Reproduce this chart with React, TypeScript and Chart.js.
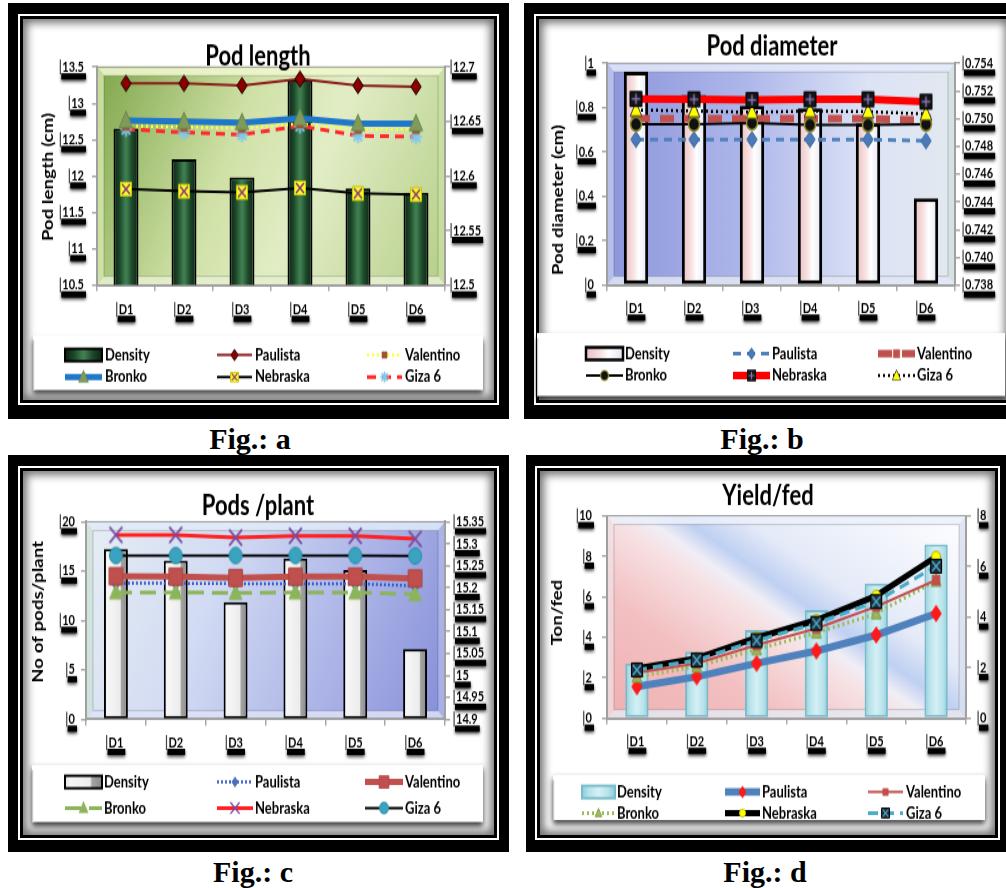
import React, { useEffect, useRef } from 'react';
import { Chart, registerables } from 'chart.js';

Chart.register(...registerables);

const STRETCH = 1.25;
const FONT = 'Lato, "Open Sans", "DejaVu Sans", sans-serif';

// ---------------- data ----------------
const categories = ['D1', 'D2', 'D3', 'D4', 'D5', 'D6'];
const seriesNames = ['Density', 'Paulista', 'Valentino', 'Bronko', 'Nebraska', 'Giza 6'];

// Fig. a — Pod length
const podLengthDensity = [12.65, 12.23, 11.98, 13.32, 11.83, 11.77];
const podLengthPaulista = [12.685, 12.685, 12.683, 12.689, 12.683, 12.682];
const podLengthValentino = [12.646, 12.645, 12.644, 12.648, 12.643, 12.643];
const podLengthBronko = [12.651, 12.65, 12.649, 12.653, 12.648, 12.648];
const podLengthNebraska = [12.588, 12.586, 12.585, 12.589, 12.584, 12.583];
const podLengthGiza6 = [12.643, 12.64, 12.638, 12.646, 12.637, 12.636];
const podLengthLeftAxis = [10.5, 13.5, 0.5];
const podLengthRightAxis = [12.5, 12.7, 0.05];

// Fig. b — Pod diameter
const podDiameterDensity = [0.962, 0.857, 0.808, 0.797, 0.729, 0.391];
const podDiameterPaulista = [0.7485, 0.7485, 0.7485, 0.7485, 0.7485, 0.7484];
const podDiameterValentino = [0.75, 0.75, 0.75, 0.75, 0.75, 0.7499];
const podDiameterBronko = [0.7496, 0.7496, 0.7497, 0.74955, 0.74955, 0.7496];
const podDiameterNebraska = [0.75143, 0.7514, 0.75135, 0.7514, 0.7514, 0.75123];
const podDiameterGiza6 = [0.75063, 0.75056, 0.75046, 0.75056, 0.75051, 0.75034];
const podDiameterLeftAxis = [0, 1, 0.2];
const podDiameterRightAxis = [0.738, 0.754, 0.002];

// Fig. c — Pods / plant
const podsPlantDensity = [17.23, 16.05, 11.84, 16.29, 15.11, 7.12];
const podsPlantPaulista = [15.21, 15.21, 15.209, 15.209, 15.209, 15.204];
const podsPlantValentino = [15.226, 15.225, 15.222, 15.225, 15.225, 15.221];
const podsPlantBronko = [15.189, 15.189, 15.188, 15.189, 15.189, 15.185];
const podsPlantNebraska = [15.32, 15.32, 15.314, 15.318, 15.318, 15.311];
const podsPlantGiza6 = [15.273, 15.273, 15.273, 15.273, 15.273, 15.272];
const podsPlantLeftAxis = [0, 20, 5];
const podsPlantRightAxis = [14.9, 15.35, 0.05];

// Fig. d — Yield / fed
const yieldDensity = [2.71, 3.29, 4.36, 5.35, 6.66, 8.59];
const yieldPaulista = [1.25, 1.64, 2.17, 2.66, 3.29, 4.14];
const yieldValentino = [1.8, 2.17, 2.89, 3.55, 4.41, 5.46];
const yieldBronko = [1.64, 2.04, 2.72, 3.38, 4.14, 5.43];
const yieldNebraska = [1.97, 2.37, 3.18, 3.88, 4.84, 6.38];
const yieldGiza6 = [1.91, 2.3, 3.07, 3.75, 4.61, 6.01];
const yieldLeftAxis = [0, 10, 2];
const yieldRightAxis = [0, 8, 2];

const figureCaptions = ['Fig.: a', 'Fig.: b', 'Fig.: c', 'Fig.: d'];

// ---------------- types & helpers ----------------
type Stops = [number, string][];
interface MarkerSpec { shape: string; size: number; fill?: string; stroke?: string; lw?: number; mark?: string }
interface LineSpec { data: number[]; color: string; width: number; dash?: number[]; marker: MarkerSpec; order: number }
interface Area { left: number; top: number; right: number; bottom: number; width: number; height: number }
interface PanelCfg {
  key: string; title: string; yTitle: string; caption: string; capX: number; capTop: number;
  box: { x: number; y: number; w: number; h: number };
  inset: { l: number; t: number; r: number; b: number };
  cw: number; ch: number;
  area: { l: number; t: number; r: number; b: number };
  y1W: number; padY: number; padY1: number; padX: number;
  left: number[]; right: number[]; rightDigits: number;
  titlePos: [number, number]; yTitlePos: [number, number];
  legendBox: [number, number, number, number]; legendRows: [number, number];
  legendCols: [number, number, number][];
  bar: { data: number[]; stops: Stops; border: string; borderWidth: number; percent: number };
  lines: LineSpec[];
  bg: (ctx: CanvasRenderingContext2D, a: Area) => void;
}

function makeMarker(m: MarkerSpec): HTMLCanvasElement {
  const s = Math.ceil(m.size + 5);
  const c = document.createElement('canvas');
  c.width = s; c.height = s;
  const g = c.getContext('2d')!;
  const cx = s / 2, cy = s / 2, r = m.size / 2;
  g.lineWidth = m.lw ?? 1;
  g.strokeStyle = m.stroke ?? m.fill ?? '#000';
  if (m.fill) g.fillStyle = m.fill;
  const finish = () => { g.closePath(); if (m.fill) g.fill(); g.stroke(); };
  g.beginPath();
  switch (m.shape) {
    case 'diamond':
      g.moveTo(cx, cy - r); g.lineTo(cx + r * 0.8, cy); g.lineTo(cx, cy + r); g.lineTo(cx - r * 0.8, cy); finish();
      break;
    case 'square': case 'squareX': case 'squarePlus': {
      const h = r * 0.85;
      g.rect(cx - h, cy - h, 2 * h, 2 * h); if (m.fill) g.fill(); g.stroke();
      if (m.shape !== 'square') {
        g.beginPath(); g.strokeStyle = m.mark ?? '#fff'; g.lineWidth = 1.5;
        const k = h * 0.72;
        if (m.shape === 'squareX') {
          g.moveTo(cx - k, cy - k); g.lineTo(cx + k, cy + k); g.moveTo(cx + k, cy - k); g.lineTo(cx - k, cy + k);
        } else {
          g.moveTo(cx - k, cy); g.lineTo(cx + k, cy); g.moveTo(cx, cy - k); g.lineTo(cx, cy + k);
        }
        g.stroke();
      }
      break;
    }
    case 'triangle':
      g.moveTo(cx, cy - r); g.lineTo(cx + r * 0.9, cy + r * 0.75); g.lineTo(cx - r * 0.9, cy + r * 0.75); finish();
      break;
    case 'circle':
      g.arc(cx, cy, r, 0, Math.PI * 2); finish();
      break;
    case 'star':
      for (let k = 0; k < 4; k++) {
        const ang = (k * Math.PI) / 4;
        g.moveTo(cx + Math.cos(ang) * r, cy + Math.sin(ang) * r);
        g.lineTo(cx - Math.cos(ang) * r, cy - Math.sin(ang) * r);
      }
      g.stroke();
      break;
    case 'x': {
      const k = r * 0.8;
      g.moveTo(cx - k, cy - k); g.lineTo(cx + k, cy + k); g.moveTo(cx + k, cy - k); g.lineTo(cx - k, cy + k);
      g.stroke();
      break;
    }
  }
  return c;
}

function fmt(v: number, digits: number) {
  return digits > 0 ? Number(v).toFixed(digits) : String(parseFloat(Number(v).toFixed(3)));
}

function barFill(stops: Stops, bp: number) {
  return (c: any) => {
    const chart = c.chart;
    const area = chart.chartArea;
    if (!area || c.type !== 'data' || c.dataIndex === undefined || !chart.scales.x) return stops[Math.floor(stops.length / 2)][1];
    const x = chart.scales.x.getPixelForValue(c.dataIndex);
    const w = (area.width / categories.length) * bp;
    const g = chart.ctx.createLinearGradient(x - w / 2, 0, x + w / 2, 0);
    stops.forEach(([o, col]) => g.addColorStop(o, col));
    return g;
  };
}

function poly(ctx: CanvasRenderingContext2D, pts: number[][], col: string) {
  ctx.beginPath();
  ctx.moveTo(pts[0][0], pts[0][1]);
  for (let i = 1; i < pts.length; i++) ctx.lineTo(pts[i][0], pts[i][1]);
  ctx.closePath();
  ctx.fillStyle = col;
  ctx.fill();
}

function bevel(ctx: CanvasRenderingContext2D, a: Area, i: number, top: string, left: string, right: string, bottom: string) {
  const l = a.left, t = a.top, r = a.right, b = a.bottom;
  poly(ctx, [[l, t], [r, t], [r - i, t + i], [l + i, t + i]], top);
  poly(ctx, [[l, t], [l + i, t + i], [l + i, b - i], [l, b]], left);
  poly(ctx, [[r, t], [r, b], [r - i, b - i], [r - i, t + i]], right);
  poly(ctx, [[l, b], [l + i, b - i], [r - i, b - i], [r, b]], bottom);
  ctx.strokeStyle = 'rgba(0,0,0,0.18)';
  ctx.lineWidth = 1;
  ctx.strokeRect(l + i, t + i, r - l - 2 * i, b - t - 2 * i);
  ctx.strokeStyle = 'rgba(90,90,90,0.6)';
  ctx.strokeRect(l, t, r - l, b - t);
}

function linGrad(ctx: CanvasRenderingContext2D, x0: number, y0: number, x1: number, y1: number, stops: Stops) {
  const g = ctx.createLinearGradient(x0, y0, x1, y1);
  stops.forEach(([o, c]) => g.addColorStop(o, c));
  return g;
}

const bgA = (ctx: CanvasRenderingContext2D, a: Area) => {
  ctx.fillStyle = linGrad(ctx, a.left, a.top, a.right, a.bottom, [[0, '#7fa64b'], [0.38, '#cfe1a6'], [0.6, '#e2edc6'], [1, '#b5cf88']]);
  ctx.fillRect(a.left, a.top, a.width, a.height);
  bevel(ctx, a, 7, 'rgba(238,246,205,0.9)', 'rgba(215,232,175,0.8)', 'rgba(200,224,160,0.8)', 'rgba(228,238,205,0.9)');
};
const bgB = (ctx: CanvasRenderingContext2D, a: Area) => {
  ctx.fillStyle = linGrad(ctx, a.left, a.top, a.right, a.top, [[0, '#8d96db'], [0.4, '#aeb7ea'], [0.75, '#dce3f6'], [1, '#e3e9ef']]);
  ctx.fillRect(a.left, a.top, a.width, a.height);
  bevel(ctx, a, 7, 'rgba(228,234,250,0.85)', 'rgba(200,208,240,0.7)', 'rgba(210,222,225,0.8)', 'rgba(225,230,245,0.85)');
};
const bgC = (ctx: CanvasRenderingContext2D, a: Area) => {
  ctx.fillStyle = linGrad(ctx, a.left, a.top, a.right, a.bottom, [[0, '#e6eef4'], [0.35, '#d2dbf3'], [0.7, '#abb3e7'], [1, '#868fd8']]);
  ctx.fillRect(a.left, a.top, a.width, a.height);
  bevel(ctx, a, 7, 'rgba(225,235,248,0.85)', 'rgba(205,225,215,0.8)', 'rgba(175,185,235,0.8)', 'rgba(220,226,248,0.85)');
};
const bgD = (ctx: CanvasRenderingContext2D, a: Area) => {
  const nx = 0.4886, ny = -0.8725;
  const cx = (a.left + a.right) / 2, cy = (a.top + a.bottom) / 2;
  const p = nx * (a.width / 2) - ny * (a.height / 2);
  ctx.fillStyle = linGrad(ctx, cx - nx * p, cy - ny * p, cx + nx * p, cy + ny * p, [
    [0, '#f0b0b2'], [0.27, '#f3c0c2'], [0.44, '#f7e0e2'], [0.5, '#f0eef6'], [0.557, '#bfd0f2'], [0.65, '#e4eaf8'], [1, '#ffffff'],
  ]);
  ctx.fillRect(a.left, a.top, a.width, a.height);
  bevel(ctx, a, 7, 'rgba(235,240,250,0.85)', 'rgba(240,225,230,0.7)', 'rgba(215,222,240,0.8)', 'rgba(230,232,240,0.85)');
};

// ---------------- panel configuration ----------------
const panels: PanelCfg[] = [
  {
    key: 'a', title: 'Pod length', yTitle: 'Pod length (cm)', caption: figureCaptions[0], capX: 250, capTop: 424,
    box: { x: 8, y: 3, w: 501, h: 416 }, inset: { l: 10, t: 11, r: 10, b: 14 },
    cw: 501, ch: 332, area: { l: 89, t: 51.2, r: 437, b: 225.6 },
    y1W: 45, padY: 8, padY1: 3, padX: 8,
    left: podLengthLeftAxis, right: podLengthRightAxis, rightDigits: 0,
    titlePos: [250, 43.2], yTitlePos: [40, 139.2],
    legendBox: [25, 265.6, 475, 309.6], legendRows: [281.6, 299.2],
    legendCols: [[57, 94, 97], [209, 244, 247], [359, 394, 397]],
    bar: {
      data: podLengthDensity, border: '#000', borderWidth: 2, percent: 0.43,
      stops: [[0, '#0b2213'], [0.25, '#1d4829'], [0.47, '#3f7d50'], [0.53, '#3f7d50'], [0.75, '#1d4829'], [1, '#0b2213']],
    },
    lines: [
      { data: podLengthPaulista, color: '#8b1c1c', width: 2, marker: { shape: 'diamond', size: 13, fill: '#8a0000', stroke: '#1a0000' }, order: 5 },
      { data: podLengthValentino, color: '#ffff33', width: 2.5, dash: [2, 3], marker: { shape: 'square', size: 8, fill: '#a0522d' }, order: 3 },
      { data: podLengthBronko, color: '#1f77c9', width: 5, marker: { shape: 'triangle', size: 15, fill: '#7f9a5a', stroke: '#6b8a4a' }, order: 2 },
      { data: podLengthNebraska, color: '#000000', width: 2, marker: { shape: 'squareX', size: 13, fill: '#f5f53a', stroke: '#c8c800', mark: '#8a3a6a' }, order: 1 },
      { data: podLengthGiza6, color: '#ff2a2a', width: 3, dash: [9, 6], marker: { shape: 'star', size: 12, stroke: '#7ec8ee', lw: 2 }, order: 4 },
    ],
    bg: bgA,
  },
  {
    key: 'b', title: 'Pod diameter', yTitle: 'Pod diameter (cm)', caption: figureCaptions[1], capX: 762, capTop: 424,
    box: { x: 524, y: 3, w: 500, h: 416 }, inset: { l: 10, t: 11, r: 10, b: 14 },
    cw: 482, ch: 332, area: { l: 83, t: 48.2, r: 431, b: 225.6 },
    y1W: 45, padY: 8, padY1: 5, padX: 7,
    left: podDiameterLeftAxis, right: podDiameterRightAxis, rightDigits: 3,
    titlePos: [248, 35.2], yTitlePos: [34, 157.6],
    legendBox: [13, 264, 481, 314.4], legendRows: [280.5, 298],
    legendCols: [[62, 99, 101], [209, 246, 248], [354, 391, 393]],
    bar: {
      data: podDiameterDensity, border: '#000', borderWidth: 3, percent: 0.42,
      stops: [[0, '#e9c0c4'], [0.4, '#f8e2e2'], [0.6, '#ffffff'], [1, '#e2e6f2']],
    },
    lines: [
      { data: podDiameterPaulista, color: '#4f81bd', width: 3, dash: [8, 6], marker: { shape: 'diamond', size: 13, fill: '#4a7ab8', stroke: '#3a6aa0' }, order: 5 },
      { data: podDiameterValentino, color: '#c0504d', width: 6, dash: [14, 10], marker: { shape: 'square', size: 10, fill: '#c0504d' }, order: 4 },
      { data: podDiameterBronko, color: '#000000', width: 2, marker: { shape: 'circle', size: 11, fill: '#111111', stroke: '#8e8e30', lw: 1.5 }, order: 3 },
      { data: podDiameterNebraska, color: '#ff0000', width: 6, marker: { shape: 'squarePlus', size: 14, fill: '#151515', stroke: '#000', mark: '#8878c0' }, order: 1 },
      { data: podDiameterGiza6, color: '#000000', width: 2.5, dash: [2, 3], marker: { shape: 'triangle', size: 13, fill: '#ffff00', stroke: '#333' }, order: 2 },
    ],
    bg: bgB,
  },
  {
    key: 'c', title: 'Pods /plant', yTitle: 'No of pods/plant', caption: figureCaptions[2], capX: 253, capTop: 857,
    box: { x: 8, y: 455, w: 501, h: 397 }, inset: { l: 10, t: 11, r: 10, b: 12 },
    cw: 501, ch: 316, area: { l: 78, t: 53.4, r: 437, b: 211.4 },
    y1W: 45, padY: 6, padY1: 6, padX: 7,
    left: podsPlantLeftAxis, right: podsPlantRightAxis, rightDigits: 0,
    titlePos: [250, 41.4], yTitlePos: [29.7, 125.4],
    legendBox: [24, 248, 475, 293.6], legendRows: [261.6, 282.4],
    legendCols: [[57, 94, 96], [209, 245, 247], [357, 395, 397]],
    bar: {
      data: podsPlantDensity, border: '#000', borderWidth: 2, percent: 0.4,
      stops: [[0, '#e4e4e4'], [0.15, '#f7f7f7'], [0.68, '#ececec'], [0.73, '#a4a4a4'], [1, '#8a8a8a']],
    },
    lines: [
      { data: podsPlantPaulista, color: '#3a5fcd', width: 2.5, dash: [2, 2], marker: { shape: 'diamond', size: 11, fill: '#4a70b8' }, order: 5 },
      { data: podsPlantValentino, color: '#c0504d', width: 5, marker: { shape: 'square', size: 16, fill: '#c0504d', stroke: '#a84440' }, order: 1 },
      { data: podsPlantBronko, color: '#8cb45a', width: 3, dash: [16, 8], marker: { shape: 'triangle', size: 14, fill: '#8cb45a' }, order: 4 },
      { data: podsPlantNebraska, color: '#ff2020', width: 3, marker: { shape: 'x', size: 16, stroke: '#7a4aa0', lw: 2 }, order: 2 },
      { data: podsPlantGiza6, color: '#000000', width: 2, marker: { shape: 'circle', size: 13, fill: '#3aa3bf', stroke: '#2a8aa8' }, order: 3 },
    ],
    bg: bgC,
  },
  {
    key: 'd', title: 'Yield/fed', yTitle: 'Ton/fed', caption: figureCaptions[3], capX: 765, capTop: 857,
    box: { x: 526, y: 455, w: 484, h: 397 }, inset: { l: 9, t: 11, r: 10, b: 12 },
    cw: 480, ch: 316, area: { l: 81, t: 48.6, r: 440, b: 210.6 },
    y1W: 30, padY: 10, padY1: 9, padX: 7,
    left: yieldLeftAxis, right: yieldRightAxis, rightDigits: 0,
    titlePos: [242, 33.3], yTitlePos: [30.7, 126],
    legendBox: [27, 256, 459, 292], legendRows: [269.6, 286.4],
    legendCols: [[56, 89, 91], [199, 234, 236], [342, 377, 380]],
    bar: {
      data: yieldDensity, border: '#78bccb', borderWidth: 2, percent: 0.39,
      stops: [[0, '#8ccbd8'], [0.2, '#b6e2ea'], [0.5, '#d4f0f5'], [0.8, '#b6e2ea'], [1, '#8ccbd8']],
    },
    lines: [
      { data: yieldPaulista, color: '#4f81bd', width: 6, marker: { shape: 'diamond', size: 13, fill: '#ff1a1a' }, order: 5 },
      { data: yieldValentino, color: '#c0504d', width: 2, marker: { shape: 'square', size: 9, fill: '#c0504d' }, order: 3 },
      { data: yieldBronko, color: '#9bbb59', width: 3, dash: [2, 3], marker: { shape: 'triangle', size: 11, fill: '#9bbb59', stroke: '#7a9a40' }, order: 4 },
      { data: yieldNebraska, color: '#000000', width: 5, marker: { shape: 'circle', size: 9, fill: '#ffff00', stroke: '#b0a000' }, order: 2 },
      { data: yieldGiza6, color: '#4bacc6', width: 3, dash: [10, 6], marker: { shape: 'squareX', size: 13, fill: '#1f2f3f', stroke: '#000', mark: '#4bacc6' }, order: 1 },
    ],
    bg: bgD,
  },
];

// ---------------- chart building ----------------
function drawTickBars(chart: any) {
  const ctx: CanvasRenderingContext2D = chart.ctx;
  ctx.font = `bold 11px ${FONT}`;
  ['y', 'y1', 'x'].forEach((id) => {
    const s: any = chart.scales[id];
    if (!s) return;
    const tl = s.options.grid.tickLength;
    const pad = s.options.ticks.padding;
    s.ticks.forEach((t: any, i: number) => {
      const label = String(t.label ?? '');
      const w = ctx.measureText(label).width;
      let x0: number, yc: number;
      if (id === 'x') { x0 = s.getPixelForTick(i) - w / 2; yc = s.top + tl + pad + 6.6; }
      else if (id === 'y') { yc = s.getPixelForTick(i); x0 = s.right - tl - pad - w; }
      else { yc = s.getPixelForTick(i); x0 = s.left + tl + pad; }
      ctx.save();
      ctx.shadowColor = 'rgba(0,0,0,0.75)'; ctx.shadowBlur = 3; ctx.shadowOffsetY = 1.5;
      ctx.fillStyle = '#000';
      ctx.fillRect(x0 - 1, yc + 5, w + 3, 5);
      ctx.restore();
      ctx.fillStyle = '#444';
      ctx.fillRect(x0 - 2.5, yc - 6, 1.2, 12);
    });
  });
}

function drawLegend(ctx: CanvasRenderingContext2D, cfg: PanelCfg, markers: HTMLCanvasElement[]) {
  const [bx0, by0, bx1, by1] = cfg.legendBox;
  ctx.save();
  ctx.shadowColor = 'rgba(0,0,0,0.8)'; ctx.shadowBlur = 5; ctx.shadowOffsetY = 3;
  ctx.fillStyle = '#ffffff';
  ctx.fillRect(bx0, by0, bx1 - bx0, by1 - by0);
  ctx.restore();
  ctx.fillStyle = '#c8c8c8';
  ctx.fillRect(bx0, by0 + 4, 1.2, by1 - by0 - 4);
  ctx.save();
  ctx.font = `bold 13px ${FONT}`;
  ctx.textBaseline = 'middle';
  ctx.textAlign = 'left';
  seriesNames.forEach((name, i) => {
    const y = cfg.legendRows[Math.floor(i / 3)];
    const [m0, m1, tx] = cfg.legendCols[i % 3];
    if (i === 0) {
      ctx.fillStyle = linGrad(ctx, m0, 0, m1, 0, cfg.bar.stops);
      ctx.fillRect(m0, y - 5, m1 - m0, 10);
      ctx.strokeStyle = cfg.bar.border;
      ctx.lineWidth = Math.min(cfg.bar.borderWidth, 2.5);
      ctx.strokeRect(m0, y - 5, m1 - m0, 10);
    } else {
      const l = cfg.lines[i - 1];
      ctx.strokeStyle = l.color;
      ctx.lineWidth = l.width;
      ctx.setLineDash(l.dash ?? []);
      ctx.beginPath(); ctx.moveTo(m0, y); ctx.lineTo(m1, y); ctx.stroke();
      ctx.setLineDash([]);
      const mk = markers[i - 1];
      const k = 0.72;
      const w = mk.width * k, h = mk.height * k;
      ctx.drawImage(mk, (m0 + m1) / 2 - w / 2, y - h / 2, w, h);
    }
    ctx.fillStyle = '#000';
    ctx.fillText(name, tx, y);
  });
  ctx.restore();
}

function createChart(canvas: HTMLCanvasElement, cfg: PanelCfg) {
  const markers = cfg.lines.map((l) => makeMarker(l.marker));
  const yW = 40, xH = 40;
  const bp = cfg.bar.percent;
  const tickFont = { family: FONT, size: 11, weight: 'bold' as const };
  const grid = { drawOnChartArea: false, drawTicks: true, tickLength: 5, color: '#a8a8a8', lineWidth: 1.5 };
  const border = { display: true, color: '#a0a0a0', width: 2 };

  const datasets: any[] = [
    {
      type: 'bar', label: seriesNames[0], data: cfg.bar.data, yAxisID: 'y',
      backgroundColor: barFill(cfg.bar.stops, bp), borderColor: cfg.bar.border, borderWidth: cfg.bar.borderWidth,
      borderSkipped: false, barPercentage: bp, categoryPercentage: 1, order: 100,
    },
    ...cfg.lines.map((l, i) => ({
      type: 'line', label: seriesNames[i + 1], data: l.data, yAxisID: 'y1',
      borderColor: l.color, backgroundColor: l.color, borderWidth: l.width, borderDash: l.dash ?? [],
      pointStyle: markers[i], pointRadius: l.marker.size / 2, pointHoverRadius: l.marker.size / 2,
      tension: 0, fill: false, order: l.order, clip: false,
    })),
  ];

  const deco = {
    id: 'deco',
    beforeDraw(chart: any) {
      const ctx: CanvasRenderingContext2D = chart.ctx;
      ctx.save(); cfg.bg(ctx, chart.chartArea); ctx.restore();
      ctx.save(); drawTickBars(chart); ctx.restore();
    },
    afterDraw(chart: any) {
      const ctx: CanvasRenderingContext2D = chart.ctx;
      ctx.save();
      ctx.fillStyle = '#000'; ctx.textAlign = 'center'; ctx.textBaseline = 'middle';
      ctx.font = `bold 22px ${FONT}`;
      ctx.fillText(cfg.title, cfg.titlePos[0], cfg.titlePos[1]);
      ctx.translate(cfg.yTitlePos[0], cfg.yTitlePos[1]);
      ctx.rotate(-Math.PI / 2);
      ctx.font = `bold 15px ${FONT}`;
      ctx.fillText(cfg.yTitle, 0, 0);
      ctx.restore();
      drawLegend(ctx, cfg, markers);
    },
  };

  return new Chart(canvas, {
    type: 'bar',
    data: { labels: categories, datasets },
    options: {
      responsive: false, animation: false, devicePixelRatio: 1,
      layout: { padding: { left: cfg.area.l - yW, right: cfg.cw - cfg.area.r - cfg.y1W, top: cfg.area.t, bottom: cfg.ch - cfg.area.b - xH } },
      plugins: { legend: { display: false }, title: { display: false }, tooltip: { enabled: false } },
      scales: {
        x: {
          type: 'category', offset: true, grid: { ...grid, offset: true }, border,
          ticks: { font: tickFont, color: '#000', padding: cfg.padX, maxRotation: 0, autoSkip: false },
          afterFit: (s: any) => { s.height = xH; },
        },
        y: {
          type: 'linear', position: 'left', min: cfg.left[0], max: cfg.left[1], grid, border,
          ticks: { stepSize: cfg.left[2], font: tickFont, color: '#000', padding: cfg.padY, callback: (v: any) => fmt(v, 0) },
          afterFit: (s: any) => { s.width = yW; },
        },
        y1: {
          type: 'linear', position: 'right', min: cfg.right[0], max: cfg.right[1], grid, border,
          ticks: { stepSize: cfg.right[2], font: tickFont, color: '#000', padding: cfg.padY1, callback: (v: any) => fmt(v, cfg.rightDigits) },
          afterFit: (s: any) => { s.width = cfg.y1W; },
        },
      },
    } as any,
    plugins: [deco],
  } as any);
}

function Panel({ cfg }: { cfg: PanelCfg }) {
  const ref = useRef<HTMLCanvasElement>(null);
  useEffect(() => {
    if (!ref.current) return;
    const chart = createChart(ref.current, cfg);
    return () => chart.destroy();
  }, [cfg]);
  const { box, inset } = cfg;
  return (
    <>
      <div style={{ position: 'absolute', left: box.x, top: box.y, width: box.w, height: box.h, background: '#000' }}>
        <div style={{ position: 'absolute', left: inset.l, top: inset.t, right: inset.r, bottom: inset.b, border: '2px solid #fff' }}>
          <div style={{ position: 'absolute', inset: 0, border: '3px solid #000', background: '#fff', boxShadow: 'inset 0 0 9px 4px rgba(0,0,0,0.55)' }} />
        </div>
      </div>
      <canvas
        ref={ref}
        width={cfg.cw}
        height={cfg.ch}
        style={{ position: 'absolute', left: box.x, top: box.y, transform: `scaleY(${STRETCH})`, transformOrigin: '0 0' }}
      />
      <div style={{
        position: 'absolute', left: cfg.capX - 80, width: 160, top: cfg.capTop, textAlign: 'center',
        font: 'bold 30px "Liberation Serif", "Times New Roman", serif', lineHeight: '30px', color: '#000',
      }}>{cfg.caption}</div>
    </>
  );
}

export default function App() {
  return (
    <div style={{ position: 'absolute', left: 0, top: 0, width: 1006, height: 888, overflow: 'hidden', background: '#fff' }}>
      {panels.map((p) => <Panel key={p.key} cfg={p} />)}
    </div>
  );
}
